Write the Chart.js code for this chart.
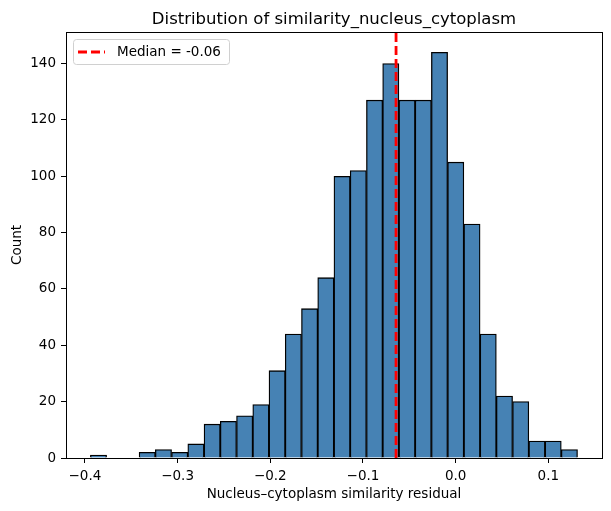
<!DOCTYPE html>
<html>
<head>
<meta charset="utf-8">
<script src="https://cdn.jsdelivr.net/npm/chart.js@4/dist/chart.umd.min.js"></script>
<style>
  html, body { margin: 0; padding: 0; background: #fff; }
  #wrap { width: 611px; height: 511px; }
</style>
</head>
<body>
<div id="wrap"><canvas id="myChart" width="611" height="511"></canvas></div>
<script>
// histogram bin edges (31 edges -> 30 bins) and counts
const binEdges = [-0.3941, -0.37658, -0.35906, -0.34154, -0.32402, -0.3065, -0.28898, -0.27146,
    -0.25394, -0.23642, -0.2189, -0.20138, -0.18386, -0.16634, -0.14882, -0.1313, -0.11378,
    -0.09626, -0.07874, -0.06122, -0.0437, -0.02618, -0.00866, 0.00886, 0.02638, 0.0439,
    0.06142, 0.07894, 0.09646, 0.11398, 0.1315];
const counts = [1, 0, 0, 2, 3, 2, 5, 12, 13, 15, 19, 31, 44, 53, 64, 100, 102, 127, 140,
    127, 127, 144, 105, 83, 44, 22, 20, 6, 6, 3];
const median = -0.0643;
const medianLabel = 'Median = -0.06';
const xTicks = [-0.4, -0.3, -0.2, -0.1, 0.0, 0.1];
const yTicks = [0, 20, 40, 60, 80, 100, 120, 140];

const FONT = 'DejaVu Sans';

const bars = counts.map((c, i) => ({ x: (binEdges[i] + binEdges[i + 1]) / 2, y: c }));

// black box round the plot (top and right spines)
const frame = {
    id: 'frame',
    afterDatasetsDraw(chart) {
        const a = chart.chartArea, ctx = chart.ctx;
        ctx.save();
        ctx.strokeStyle = '#000';
        ctx.lineWidth = 1;
        ctx.strokeRect(Math.round(a.left) + 0.5, Math.round(a.top) + 0.5,
            Math.round(a.right - a.left), Math.round(a.bottom - a.top));
        ctx.restore();
    }
};

// matplotlib-like legend box in the upper left of the plot
const boxLegend = {
    id: 'boxLegend',
    afterDraw(chart) {
        const a = chart.chartArea, ctx = chart.ctx;
        const x = a.left + 7, y = a.top + 7, w = 156, h = 25;
        ctx.save();
        ctx.fillStyle = 'rgba(255,255,255,0.8)';
        ctx.strokeStyle = '#d0d0d0';
        ctx.lineWidth = 1;
        ctx.beginPath();
        ctx.roundRect(x + 0.5, y + 0.5, w, h, 3);
        ctx.fill();
        ctx.stroke();
        ctx.strokeStyle = 'red';
        ctx.lineWidth = 2.8;
        ctx.setLineDash([9, 4]);
        ctx.beginPath();
        ctx.moveTo(x + 5, y + 13);
        ctx.lineTo(x + 32, y + 13);
        ctx.stroke();
        ctx.setLineDash([]);
        ctx.fillStyle = '#000';
        ctx.font = '13.5px "' + FONT + '"';
        ctx.textBaseline = 'middle';
        ctx.fillText(medianLabel, x + 44, y + 13.5);
        ctx.restore();
    }
};

const ctx = document.getElementById('myChart').getContext('2d');
const myChart = new Chart(ctx, {
    type: 'bar',
    data: {
        datasets: [{
            type: 'line',
            label: medianLabel,
            data: [{ x: median, y: 0 }, { x: median, y: 151.2 }],
            borderColor: 'red',
            borderWidth: 2.8,
            borderDash: [9, 4],
            pointRadius: 0,
            fill: false,
            order: 0
        }, {
            label: 'counts',
            data: bars,
            backgroundColor: '#4682B4',
            borderColor: '#000',
            borderWidth: 1.3,
            barPercentage: 1,
            categoryPercentage: 1,
            grouped: false,
            order: 1
        }]
    },
    options: {
        responsive: false,
        animation: false,
        layout: { padding: { left: 0, right: 9, top: 0, bottom: 0 } },
        plugins: {
            legend: { display: false },
            tooltip: { enabled: false },
            title: {
                display: true,
                text: 'Distribution of similarity_nucleus_cytoplasm',
                color: '#000',
                fullSize: false,
                font: { family: FONT, size: 16.5, weight: 'normal', lineHeight: 1.2 },
                padding: { top: 10, bottom: 2.2 }
            }
        },
        scales: {
            x: {
                type: 'linear',
                min: -0.4204,
                max: 0.1579,
                offset: false,
                afterFit(s) { s.height = 53; },
                afterBuildTicks(s) { s.ticks = xTicks.map(v => ({ value: v })); },
                grid: { display: true, offset: false, drawOnChartArea: false, drawTicks: true, tickLength: 5, tickColor: '#000' },
                border: { display: true, color: '#000', width: 1 },
                ticks: {
                    color: '#000',
                    padding: 5,
                    maxRotation: 0,
                    autoSkip: false,
                    font: { family: FONT, size: 13.5 },
                    callback: v => (v < 0 ? '\u2212' : '') + Math.abs(v).toFixed(1)
                },
                title: {
                    display: true,
                    text: 'Nucleus\u2013cytoplasm similarity residual',
                    color: '#000',
                    font: { family: FONT, size: 13.5 },
                    padding: { top: 0, bottom: 8 }
                }
            },
            y: {
                min: 0,
                max: 151.2,
                afterFit(s) { s.width = 66; },
                afterBuildTicks(s) { s.ticks = yTicks.map(v => ({ value: v })); },
                grid: { display: true, offset: false, drawOnChartArea: false, drawTicks: true, tickLength: 5, tickColor: '#000' },
                border: { display: true, color: '#000', width: 1 },
                ticks: {
                    color: '#000',
                    padding: 5,
                    autoSkip: false,
                    font: { family: FONT, size: 13.5 }
                },
                title: {
                    display: true,
                    text: 'Count',
                    color: '#000',
                    font: { family: FONT, size: 13.5 },
                    padding: { top: 9, bottom: 0 }
                }
            }
        }
    },
    plugins: [frame, boxLegend]
});
</script>
</body>
</html>
